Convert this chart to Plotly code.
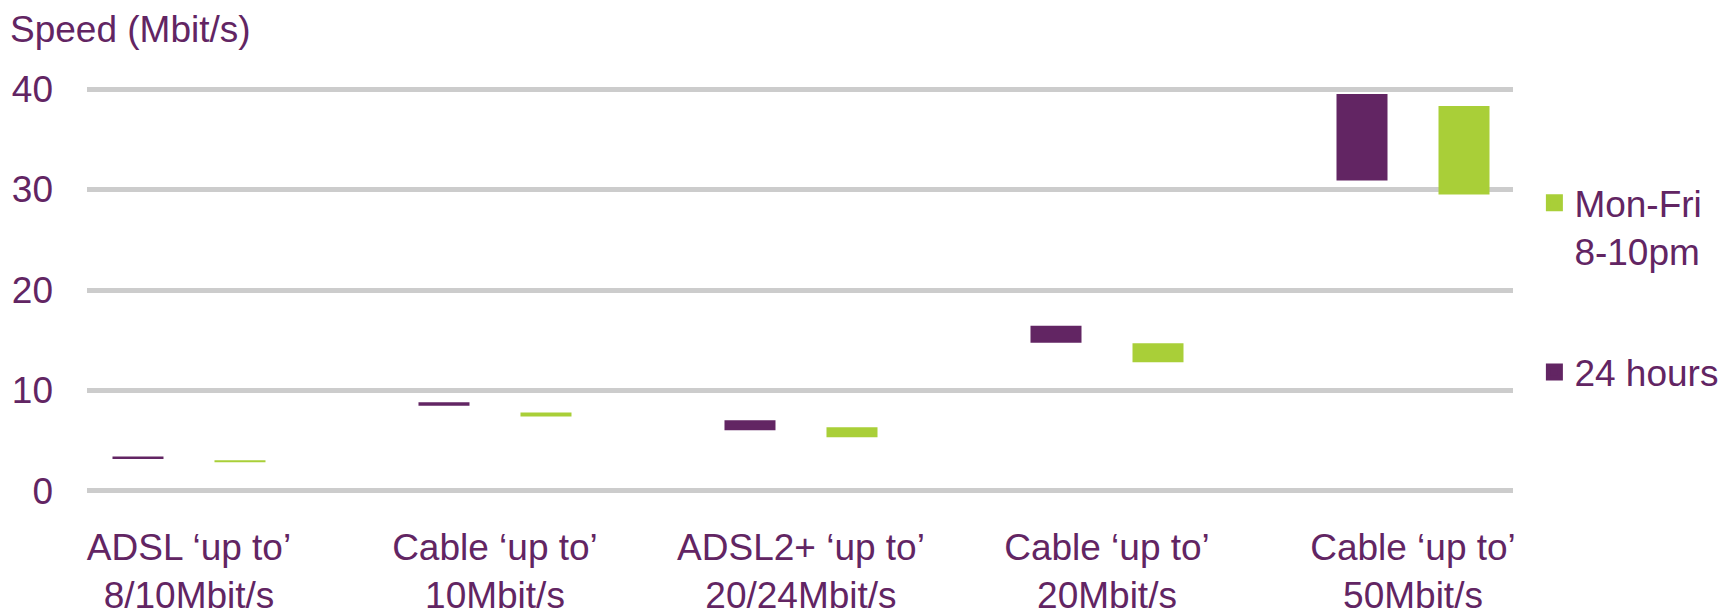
import plotly.graph_objects as go

# Data: floating bars (low/high speed range) per connection type
categories = ["ADSL ‘up to’<br>8/10Mbit/s", "Cable ‘up to’<br>10Mbit/s",
              "ADSL2+ ‘up to’<br>20/24Mbit/s", "Cable ‘up to’<br>20Mbit/s",
              "Cable ‘up to’<br>50Mbit/s"]
hours24_low = [3.17, 8.47, 6.05, 14.75, 30.9]
hours24_high = [3.44, 8.84, 7.05, 16.45, 39.5]
peak_low = [2.87, 7.40, 5.35, 12.8, 29.5]
peak_high = [3.07, 7.80, 6.35, 14.7, 38.3]
y_ticks = [0, 10, 20, 30, 40]

PURPLE = "#622563"
GREEN = "#A9CF38"
FONT = "Liberation Sans, Arial, sans-serif"
FSIZE = 37


def span(lows, highs):
    return [h - l for l, h in zip(lows, highs)]


fig = go.Figure()

# 24 hours bars (left in each group)
fig.add_trace(go.Bar(x=categories, y=span(hours24_low, hours24_high), base=hours24_low,
                     marker=dict(color=PURPLE, line=dict(width=0)),
                     width=1/6, offset=-0.25, showlegend=False))
# Mon-Fri 8-10pm bars (right in each group)
fig.add_trace(go.Bar(x=categories, y=span(peak_low, peak_high), base=peak_low,
                     marker=dict(color=GREEN, line=dict(width=0)),
                     width=1/6, offset=1/12, showlegend=False))

# legend entries (bigger square swatches), Mon-Fri listed first
fig.add_trace(go.Bar(x=[None], y=[None], name="Mon-Fri<br>8-10pm", legendgroup="a",
                     marker=dict(color=GREEN, line=dict(color=GREEN, width=6))))
fig.add_trace(go.Bar(x=[None], y=[None], name="24 hours", legendgroup="b",
                     marker=dict(color=PURPLE, line=dict(color=PURPLE, width=6))))

fig.update_layout(
    width=1721, height=611,
    margin=dict(l=87, r=208, t=84, b=115, autoexpand=False),
    paper_bgcolor="white", plot_bgcolor="white",
    barmode="overlay",
    font=dict(family=FONT, size=FSIZE, color=PURPLE),
    title=dict(text="Speed (Mbit/s)", x=10/1721, xanchor="left", xref="container",
               y=1 - 16/611, yanchor="top", yref="container",
               font=dict(family=FONT, size=FSIZE, color=PURPLE)),
    legend=dict(traceorder="grouped", tracegroupgap=70, valign="top",
                x=1.015, xanchor="left", y=0.786, yanchor="top",
                font=dict(family=FONT, size=FSIZE, color=PURPLE),
                bgcolor="rgba(0,0,0,0)"),
    xaxis=dict(type="category", range=[-0.3333, 4.3268], showgrid=False,
               zeroline=False, showline=False, ticks="", ticklabelstandoff=26,
               automargin=False,
               tickfont=dict(family=FONT, size=FSIZE, color=PURPLE)),
    yaxis=dict(range=[-0.5, 40.5], tickvals=y_ticks, showgrid=True,
               gridcolor="#CCCCCC", gridwidth=4.5, zeroline=False, showline=False,
               ticks="", ticklabelstandoff=33, automargin=False,
               tickfont=dict(family=FONT, size=FSIZE, color=PURPLE)),
)

# remove the default page margin so the figure sits at the window's corner
fig.write_html("out.html", config={"displayModeBar": False},
               post_script="document.body.style.margin='0';")
